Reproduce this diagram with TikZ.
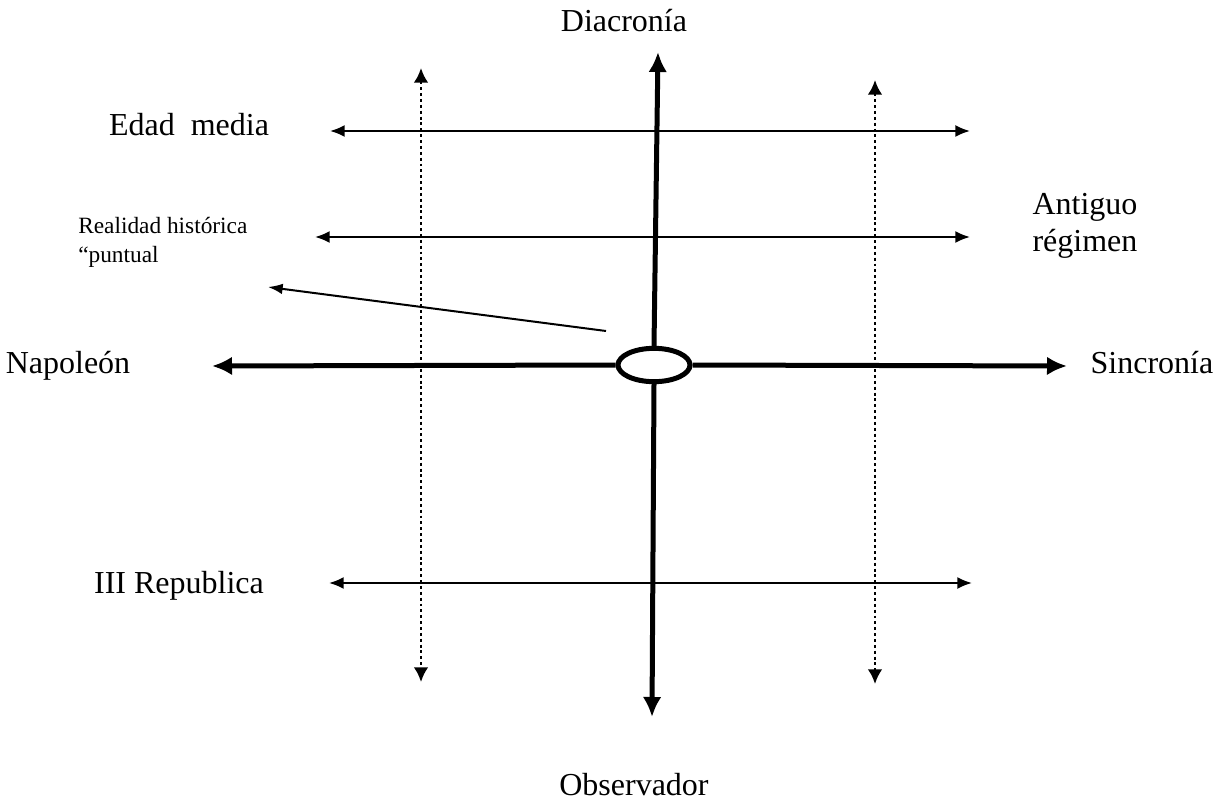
\documentclass[tikz,border=0pt]{standalone}
\usepackage{fontspec}
\setmainfont{Liberation Serif}
\usetikzlibrary{arrows.meta,positioning,shapes.geometric}

\begin{document}
\begin{tikzpicture}[x=0.75pt,y=-0.75pt,
	axis/.style={line width=3.75pt,-{Latex[length=15pt,width=14pt]}},
	lev/.style={line width=1.5pt,{Latex[length=11pt,width=9pt]}-{Latex[length=11pt,width=9pt]}},
	dotline/.style={line width=1.9pt,dash pattern=on 2.2pt off 2.2pt,{Latex[length=11pt,width=11pt]}-{Latex[length=11pt,width=11pt]}},
	lbl/.style={font=\fontsize{24}{27.75}\selectfont,align=center,inner sep=0,anchor=base},
	]
	\useasboundingbox (0,0) rectangle (1221,806);
	
	% centre
	\node[draw,ellipse,line width=3.75pt,minimum width=54pt,minimum height=25pt,inner sep=0] (obs) at (654,365) {};
	\coordinate (top) at (658,52);
	\coordinate (bot) at (652,717);
	\coordinate (lft) at (212,366);
	\coordinate (rgt) at (1067,366);
	\draw[axis] (obs.north) -- (top);
	\draw[axis] (obs.south) -- (bot);
	\draw[axis] (obs.west) -- (lft);
	\draw[axis] (obs.east) -- (rgt);
	
	% lineas de tiempo
	\foreach \n/\xa/\xb/\y in {a/330/970/131,b/315/970/237,c/329/972/583}{%
		\coordinate (l\n) at (\xa,\y);
		\coordinate (r\n) at (\xb,\y);
		\draw[lev] (l\n) -- (r\n);}
	\foreach \n/\x/\ya/\yb in {a/421/68/682,b/875/80/684}{%
		\coordinate (t\n) at (\x,\ya);
		\coordinate (b\n) at (\x,\yb);
		\draw[dotline] (t\n) -- (b\n);}
	
	% textos
	\node[lbl] (diac) at (624,32) {Diacronía};
	\node[lbl] (obsv) at (634,795) {Observador};
	\node[lbl] (napo) at (68,373) {Napoleón};
	\node[lbl] (sinc) at (1152,373) {Sincronía};
	\node[lbl] (edad) at (189,136) {Edad\ \ media};
	\node[lbl,anchor=north] (anti) at (1085,193) {Antiguo\\régimen};
	\node[lbl] (trep) at (179,593) {III Republica};
	\node[lbl,font=\fontsize{17.5}{22}\selectfont,align=left,anchor=north west] (real) at (78,217) {Realidad histórica\\“puntual};
	
	\coordinate (p1) at (606,331);
	\coordinate (p2) at (268,287);
	\draw[line width=1.5pt,-{Latex[length=11pt,width=8pt]}] (p1) -- (p2);
\end{tikzpicture}
\end{document}
